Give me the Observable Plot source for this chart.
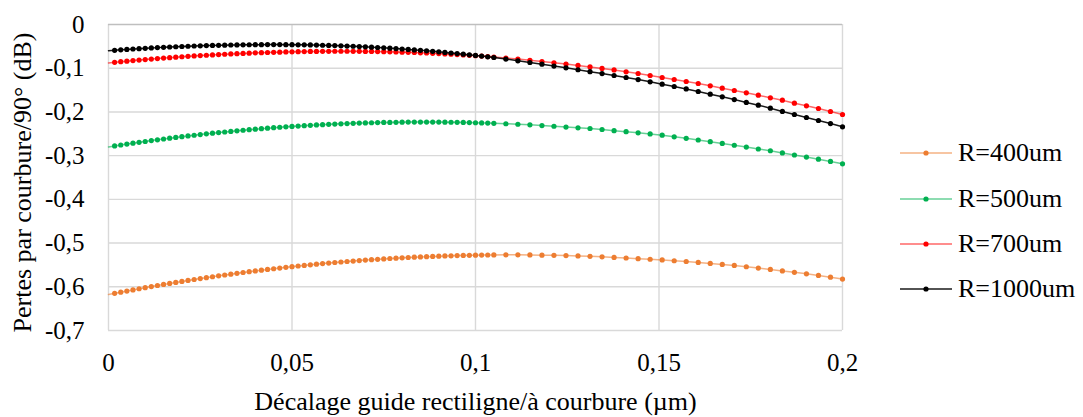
<!DOCTYPE html>
<html><head><meta charset="utf-8">
<script src="https://cdn.jsdelivr.net/npm/d3@7"></script>
<script src="https://cdn.jsdelivr.net/npm/@observablehq/plot@0.6"></script>
<style>
body{margin:0;background:#fff;}
#wrap{position:relative;width:1083px;height:417px;font-family:"Times New Roman","Liberation Serif",Times,"Noto Serif","DejaVu Serif",serif;}
#legend{position:absolute;left:900px;top:0;}
.item{position:absolute;left:0;height:30px;display:flex;align-items:center;white-space:nowrap;font-size:26px;line-height:30px;color:#000;}
.item svg{margin-right:6px;}
</style></head><body><div id="wrap"><div id="legend"></div></div>
<script>
// x grid: dense steps up to 0.105, then coarser steps up to 0.2
const xValues = [
  ...d3.range(64).map(i => i * 0.105 / 63),
  ...d3.range(1, 30).map(k => 0.105 + k * 0.095 / 29)
];
const xTicks = [0, 0.05, 0.1, 0.15, 0.2];
const yTicks = [0, -0.1, -0.2, -0.3, -0.4, -0.5, -0.6, -0.7];
const seriesNames = ["R=400um", "R=500um", "R=700um", "R=1000um"];
const seriesColors = ["#ED7D31", "#00B050", "#FF0000", "#000000"];
const xTitle = "Décalage guide rectiligne/à courbure (µm)";
const yTitle = "Pertes par courbure/90° (dB)";

const r400 = [-0.6178,-0.6150,-0.6123,-0.6097,-0.6071,-0.6045,-0.6020,-0.5995,-0.5971,-0.5947,
-0.5923,-0.5900,-0.5878,-0.5855,-0.5833,-0.5812,-0.5791,-0.5770,-0.5750,-0.5730,
-0.5711,-0.5692,-0.5673,-0.5655,-0.5638,-0.5620,-0.5603,-0.5587,-0.5571,-0.5555,
-0.5540,-0.5525,-0.5511,-0.5497,-0.5483,-0.5470,-0.5458,-0.5445,-0.5433,-0.5422,
-0.5411,-0.5400,-0.5390,-0.5380,-0.5371,-0.5362,-0.5353,-0.5345,-0.5338,-0.5330,
-0.5323,-0.5317,-0.5311,-0.5305,-0.5300,-0.5295,-0.5291,-0.5287,-0.5283,-0.5280,
-0.5278,-0.5275,-0.5273,-0.5272,
-0.5270,-0.5270,-0.5272,-0.5276,-0.5281,-0.5287,-0.5295,-0.5303,-0.5315,-0.5328,
-0.5342,-0.5356,-0.5370,-0.5385,-0.5404,-0.5421,-0.5443,-0.5465,-0.5488,-0.5512,
-0.5542,-0.5573,-0.5604,-0.5637,-0.5670,-0.5704,-0.5740,-0.5780,-0.5824];

const r500 = [-0.2800,-0.2778,-0.2757,-0.2736,-0.2715,-0.2695,-0.2676,-0.2656,-0.2638,-0.2619,
-0.2601,-0.2584,-0.2567,-0.2550,-0.2534,-0.2518,-0.2502,-0.2487,-0.2473,-0.2459,
-0.2445,-0.2432,-0.2419,-0.2407,-0.2395,-0.2383,-0.2372,-0.2361,-0.2351,-0.2341,
-0.2332,-0.2323,-0.2314,-0.2306,-0.2298,-0.2291,-0.2284,-0.2278,-0.2272,-0.2266,
-0.2261,-0.2256,-0.2252,-0.2248,-0.2244,-0.2241,-0.2239,-0.2237,-0.2235,-0.2233,
-0.2233,-0.2232,-0.2232,-0.2232,-0.2233,-0.2235,-0.2236,-0.2238,-0.2241,-0.2244,
-0.2247,-0.2251,-0.2255,-0.2260,
-0.2270,-0.2282,-0.2296,-0.2312,-0.2328,-0.2346,-0.2363,-0.2379,-0.2402,-0.2428,
-0.2452,-0.2478,-0.2503,-0.2532,-0.2570,-0.2603,-0.2642,-0.2680,-0.2720,-0.2762,
-0.2803,-0.2848,-0.2888,-0.2938,-0.2985,-0.3033,-0.3080,-0.3132,-0.3187];

const r700 = [-0.0878,-0.0865,-0.0851,-0.0838,-0.0826,-0.0813,-0.0802,-0.0790,-0.0779,-0.0768,
-0.0758,-0.0748,-0.0738,-0.0729,-0.0720,-0.0711,-0.0703,-0.0695,-0.0687,-0.0680,
-0.0673,-0.0667,-0.0661,-0.0655,-0.0649,-0.0644,-0.0640,-0.0636,-0.0632,-0.0628,
-0.0625,-0.0622,-0.0619,-0.0617,-0.0616,-0.0614,-0.0613,-0.0612,-0.0612,-0.0612,
-0.0613,-0.0613,-0.0615,-0.0617,-0.0619,-0.0622,-0.0625,-0.0628,-0.0632,-0.0637,
-0.0641,-0.0647,-0.0652,-0.0659,-0.0665,-0.0672,-0.0680,-0.0687,-0.0696,-0.0705,
-0.0714,-0.0723,-0.0733,-0.0744,
-0.0768,-0.0792,-0.0818,-0.0846,-0.0875,-0.0905,-0.0937,-0.0970,-0.1004,-0.1040,
-0.1083,-0.1121,-0.1167,-0.1212,-0.1258,-0.1304,-0.1350,-0.1403,-0.1456,-0.1510,
-0.1563,-0.1617,-0.1678,-0.1731,-0.1800,-0.1861,-0.1922,-0.1990,-0.2059];

const r1000 = [-0.0600,-0.0590,-0.0580,-0.0570,-0.0561,-0.0553,-0.0545,-0.0537,-0.0529,-0.0522,
-0.0515,-0.0509,-0.0503,-0.0498,-0.0492,-0.0488,-0.0483,-0.0479,-0.0476,-0.0472,
-0.0469,-0.0467,-0.0465,-0.0463,-0.0462,-0.0461,-0.0460,-0.0460,-0.0460,-0.0461,
-0.0462,-0.0464,-0.0466,-0.0468,-0.0471,-0.0475,-0.0478,-0.0483,-0.0488,-0.0493,
-0.0498,-0.0505,-0.0511,-0.0518,-0.0526,-0.0534,-0.0542,-0.0551,-0.0560,-0.0570,
-0.0581,-0.0591,-0.0602,-0.0614,-0.0626,-0.0639,-0.0652,-0.0665,-0.0679,-0.0693,
-0.0708,-0.0723,-0.0739,-0.0755,
-0.0790,-0.0831,-0.0869,-0.0908,-0.0950,-0.0991,-0.1035,-0.1080,-0.1122,-0.1167,
-0.1212,-0.1260,-0.1312,-0.1365,-0.1418,-0.1474,-0.1533,-0.1594,-0.1655,-0.1718,
-0.1782,-0.1846,-0.1914,-0.1988,-0.2059,-0.2128,-0.2196,-0.2267,-0.2340];

const seriesValues = [r400, r500, r700, r1000];
const fmt = d => String(d).replace(".", ",");
const serifFont = '"Times New Roman", "Liberation Serif", Times, "Noto Serif", "DejaVu Serif", serif';

const seriesMarks = seriesValues.flatMap((vals, si) => {
  const rows = vals.map((v, i) => ({x: xValues[i], y: v, i}));
  const col = seriesColors[si];
  return [
    Plot.line(rows, {x: "x", y: "y", stroke: col, strokeWidth: 1.5, strokeOpacity: si === 3 ? 0.9 : 0.6}),
    Plot.dot(rows.filter(d => d.i > 0), {x: "x", y: "y", r: 2.6, fill: col, stroke: "none"})
  ];
});

const chart = Plot.plot({
  width: 1083, height: 417,
  marginLeft: 108, marginRight: 241, marginTop: 24, marginBottom: 87,
  style: {fontFamily: serifFont, fontSize: "25px", background: "white", color: "#000"},
  x: {domain: [0, 0.2]},
  y: {domain: [-0.7, 0]},
  marks: [
    Plot.gridY(yTicks.filter(d => d !== 0), {stroke: "#D9D9D9", strokeOpacity: 1, strokeWidth: 1.4}),
    Plot.gridX(xTicks, {stroke: "#D9D9D9", strokeOpacity: 1, strokeWidth: 1.4}),
    Plot.ruleY([0], {stroke: "#BFBFBF", strokeWidth: 1.6}),
    Plot.axisX(xTicks, {tickSize: 0, tickPadding: 23, tickFormat: fmt, label: null, fontSize: 25, fontFamily: serifFont}),
    Plot.axisY(yTicks, {tickSize: 0, tickPadding: 24, tickFormat: fmt, label: null, fontSize: 25, fontFamily: serifFont}),
    ...seriesMarks,
    Plot.text([xTitle], {text: d => d, frameAnchor: "bottom", dy: 71, textAnchor: "middle", lineAnchor: "middle", fontSize: 26, fontFamily: serifFont}),
    Plot.text([yTitle], {text: d => d, frameAnchor: "left", dx: -86, dy: 5, rotate: -90, textAnchor: "middle", lineAnchor: "middle", fontSize: 26, fontFamily: serifFont})
  ]
});
const wrap = document.getElementById("wrap");
wrap.insertBefore(chart, wrap.firstChild);

const legend = document.getElementById("legend");
const legendCenters = [153, 199, 244, 289];
seriesNames.forEach((name, si) => {
  const item = document.createElement("div");
  item.className = "item";
  item.style.top = (legendCenters[si] - 15) + "px";
  const col = seriesColors[si];
  item.innerHTML = `<svg width="52" height="30"><line x1="0" x2="52" y1="15" y2="15" stroke="${col}" stroke-width="1.5" stroke-opacity="${si === 3 ? 0.9 : 0.6}"/><circle cx="26" cy="15" r="2.6" fill="${col}"/></svg><span>${name}</span>`;
  legend.appendChild(item);
});
</script>
</body></html>
